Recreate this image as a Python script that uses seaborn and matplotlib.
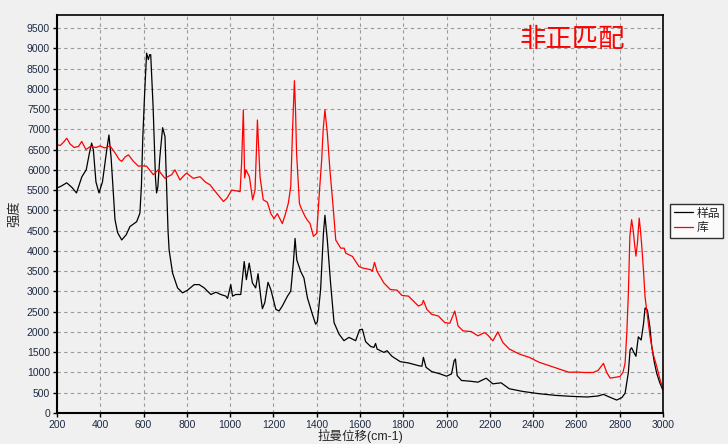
import numpy as np
import pandas as pd
import matplotlib
matplotlib.use("Agg")
import matplotlib.pyplot as plt
import seaborn as sns

# Sample spectrum (样品)
sample_shift = [200, 220, 245, 270, 290, 315, 335, 350, 360, 368, 380, 394, 410, 430, 440,
                450, 468, 480, 499, 520, 537, 568, 583, 590, 596, 605, 614, 622, 628, 633,
                644, 655, 660, 666, 675, 688, 699, 705, 713, 718, 734, 757, 780, 803, 834,
                857, 880, 911, 934, 957, 980, 988, 1003, 1011, 1026, 1049, 1065, 1075, 1088,
                1103, 1118, 1129, 1141, 1149, 1160, 1175, 1188, 1211, 1226, 1241, 1265, 1280,
                1292, 1300, 1308, 1326, 1341, 1357, 1380, 1395, 1403, 1418, 1431, 1438, 1449,
                1464, 1480, 1503, 1526, 1549, 1580, 1598, 1611, 1626, 1649, 1664, 1672, 1679,
                1710, 1725, 1748, 1786, 1824, 1870, 1886, 1893, 1905, 1931, 1970, 2000, 2023,
                2035, 2041, 2049, 2069, 2107, 2145, 2183, 2214, 2252, 2290, 2351, 2428, 2504,
                2580, 2650, 2700, 2725, 2750, 2786, 2810, 2825, 2840, 2848, 2855, 2865, 2875,
                2886, 2899, 2910, 2917, 2928, 2940, 2948, 2960, 2971, 2985, 2999]
sample_int = [5550, 5600, 5680, 5560, 5430, 5830, 6000, 6420, 6660, 6490, 5700, 5430, 5700, 6500, 6860,
              6300, 4770, 4450, 4270, 4400, 4600, 4720, 4930, 5600, 6740, 7900, 8880, 8720, 8840, 8840,
              7560, 5800, 5430, 5580, 6300, 7040, 6820, 5800, 4500, 4023, 3453, 3087, 2965, 3030, 3168,
              3168, 3087, 2924, 2981, 2924, 2884, 2827, 3168, 2884, 2924, 2924, 3738, 3290, 3697,
              3209, 3087, 3437, 2884, 2574, 2721, 3225, 3046, 2558, 2517, 2639, 2884, 3006,
              3697, 4308, 3778, 3494, 3331, 2843, 2436, 2192, 2249, 3046, 4430, 4878, 4267,
              3209, 2233, 1948, 1785, 1866, 1785, 2053, 2067, 1760, 1643, 1618, 1716, 1578,
              1496, 1537, 1398, 1267, 1235, 1169, 1153, 1373, 1129, 1023, 965, 908, 965,
              1292, 1333, 924, 802, 786, 761, 859, 720, 745, 598, 533, 476, 435,
              410, 395, 420, 460, 400, 320, 380, 490, 1000, 1560, 1610, 1500, 1400,
              1880, 1800, 2200, 2590, 2540, 2100, 1640, 1250, 980, 750, 570]

# Library spectrum (库)
library_shift = [200, 215, 230, 245, 260, 280, 300, 314, 334, 355, 380, 399, 420, 445, 468,
                 488, 499, 515, 530, 553, 576, 595, 614, 630, 645, 668, 685, 699, 715, 730,
                 745, 768, 785, 799, 815, 830, 861, 885, 907, 938, 969, 985, 1007, 1030, 1046,
                 1053, 1058, 1061, 1067, 1073, 1089, 1104, 1115, 1120, 1126, 1132, 1138, 1153,
                 1172, 1188, 1203, 1218, 1241, 1255, 1269, 1280, 1289, 1297, 1302, 1307, 1320,
                 1326, 1346, 1357, 1369, 1385, 1400, 1412, 1423, 1430, 1438, 1449, 1461, 1477,
                 1488, 1511, 1527, 1534, 1565, 1595, 1611, 1649, 1657, 1667, 1679, 1710, 1740,
                 1771, 1794, 1824, 1847, 1870, 1886, 1893, 1909, 1931, 1962, 1992, 2015, 2038,
                 2053, 2076, 2114, 2145, 2176, 2191, 2214, 2237, 2260, 2290, 2336, 2382, 2428,
                 2474, 2519, 2565, 2601, 2640, 2678, 2700, 2725, 2740, 2756, 2780, 2801, 2815,
                 2825, 2833, 2840, 2847, 2855, 2862, 2870, 2875, 2882, 2890, 2896, 2902, 2910,
                 2917, 2940, 2955, 2971, 2985, 2999]
library_int = [6620, 6600, 6680, 6780, 6640, 6550, 6580, 6700, 6500, 6580, 6550, 6590, 6540, 6590, 6420,
               6250, 6210, 6320, 6370, 6210, 6090, 6100, 6090, 5980, 5880, 6000, 5880, 5790, 5840, 5880,
               6000, 5750, 5850, 5920, 5850, 5790, 5830, 5700, 5630, 5420, 5220, 5300, 5500, 5480, 5460,
               6170, 7000, 7480, 5800, 6000, 5830, 5260, 5500, 6250, 7230, 6500, 5830, 5260,
               5200, 4919, 4797, 4919, 4674, 4900, 5180, 5590, 7080, 8200, 7500, 6410, 5180,
               5081, 4850, 4756, 4680, 4360, 4430, 5420, 6250, 7000, 7480, 6900, 6000, 5010,
               4267, 4067, 4067, 3945, 3863, 3618, 3578, 3537, 3496, 3716, 3496, 3210, 3047,
               3031, 2900, 2884, 2761, 2639, 2680, 2778, 2557, 2435, 2394, 2231, 2214, 2516,
               2149, 2027, 2010, 1904, 1986, 1920, 1782, 2002, 1741, 1578, 1455, 1374, 1251,
               1170, 1088, 1006, 1010, 1000, 1000, 1050, 1225, 1000, 860, 880, 900, 1000,
               1230, 2000, 2950, 4360, 4770, 4520, 4100, 3870, 4200, 4810, 4500, 4115, 3500,
               2870, 1890, 1450, 1150, 850, 610]

x_ticks = list(range(200, 3001, 200))
y_ticks = list(range(0, 9501, 500))

bg = "#f0f0f0"
sns.set_theme(style="whitegrid", rc={
    "figure.facecolor": bg,
    "axes.facecolor": bg,
    "grid.color": "#9a9a9a",
    "grid.linestyle": (0, (3, 3)),
    "grid.linewidth": 0.8,
})
plt.rcParams["font.family"] = ["Liberation Sans", "Noto Sans CJK SC", "DejaVu Sans"]

fig = plt.figure(figsize=(7.28, 4.44), dpi=100)
ax = fig.add_axes([0.0783, 0.0698, 0.8324, 0.8964])

sample_df = pd.DataFrame({"shift": sample_shift, "intensity": sample_int})
library_df = pd.DataFrame({"shift": library_shift, "intensity": library_int})

sns.lineplot(data=sample_df, x="shift", y="intensity", ax=ax, color="black",
             linewidth=0.9, estimator=None, sort=False, label="样品")
sns.lineplot(data=library_df, x="shift", y="intensity", ax=ax, color="#ff0000",
             linewidth=0.9, estimator=None, sort=False, label="库")

ax.set_xlim(200, 3000)
ax.set_ylim(0, 9820)
ax.set_xticks(x_ticks)
ax.set_yticks(y_ticks)
ax.tick_params(axis="both", labelsize=7.5, labelcolor="#1e2a44", length=3,
               width=1, color="black", pad=2, bottom=True, left=True)

for side in ["left", "bottom"]:
    ax.spines[side].set_color("black")
    ax.spines[side].set_linewidth(1.5)
for side in ["top", "right"]:
    ax.spines[side].set_color("black")
    ax.spines[side].set_linewidth(1.2)

ax.set_xlabel("拉曼位移(cm-1)", fontsize=9, labelpad=-1)
ax.set_ylabel("强度", fontsize=9.5, labelpad=4)

ax.text(0.85, 0.937, "非正匹配", transform=ax.transAxes, color="#ff0000",
        fontsize=19, fontweight="light", ha="center", va="center")

leg = ax.legend(loc="upper left", bbox_to_anchor=(1.012, 0.525), fontsize=8.5,
                frameon=True, fancybox=False, handlelength=1.6, handletextpad=0.3,
                borderpad=0.3, labelspacing=0.2, borderaxespad=0)
leg.get_frame().set_edgecolor("black")
leg.get_frame().set_facecolor("white")
leg.get_frame().set_linewidth(1.0)

fig.savefig("out.png", dpi=100, facecolor=bg)
